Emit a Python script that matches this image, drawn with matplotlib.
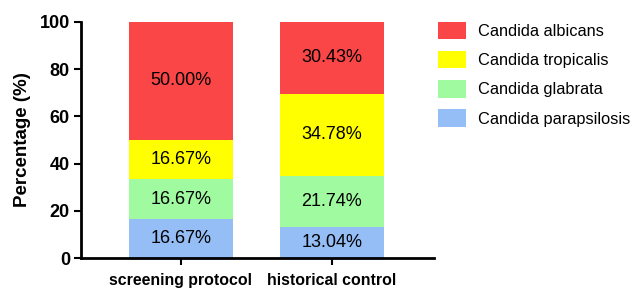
import numpy as np
import matplotlib
matplotlib.use('Agg')
from matplotlib import pyplot as plt

plt.rcParams['font.family'] = ['Liberation Sans', 'DejaVu Sans']

#%% data
groups = ['screening protocol', 'historical control']
species = ['Candida parapsilosis', 'Candida glabrata', 'Candida tropicalis', 'Candida albicans']
values = {
    'Candida parapsilosis': [16.67, 13.04],
    'Candida glabrata': [16.67, 21.74],
    'Candida tropicalis': [16.67, 34.78],
    'Candida albicans': [50.00, 30.43],
}
colors = {
    'Candida parapsilosis': '#94BEF5',
    'Candida glabrata': '#A0FAA0',
    'Candida tropicalis': '#FFFF00',
    'Candida albicans': '#FA4646',
}

#%% plot
fig = plt.figure(figsize=(6.38, 2.89), dpi=100)
ax = fig.add_axes([0.127, 0.107, 0.553, 0.817])

x = np.arange(len(groups))
bottom = np.zeros(len(groups))
handles = []
for sp in species:
    vals = np.array(values[sp])
    h = ax.bar(x, vals, 0.69, bottom=bottom, color=colors[sp], label=sp)
    handles.append(h)
    for xi, b, v in zip(x, bottom, vals):
        ax.text(xi, b + v / 2, f'{v:.2f}%', ha='center', va='center', fontsize=13)
    bottom += vals

ax.set_xlim(-0.662, 1.675)
ax.set_ylim(0, 100)
ax.set_yticks([0, 20, 40, 60, 80, 100])
ax.set_xticks(x)
ax.set_xticklabels(groups, fontweight='bold', fontsize=11.4)
for lbl in ax.get_yticklabels():
    lbl.set_fontweight('bold')
    lbl.set_fontsize(13)
ax.set_ylabel('Percentage (%)', fontweight='bold', fontsize=13.5, labelpad=6)
ax.spines['top'].set_visible(False)
ax.spines['right'].set_visible(False)
ax.spines['left'].set_linewidth(2)
ax.spines['bottom'].set_linewidth(2)
ax.tick_params(width=1.5, length=5)
ax.tick_params(axis='y', pad=3)
ax.tick_params(axis='x', pad=6)

leg = fig.legend(handles[::-1], species[::-1], loc='upper left', bbox_to_anchor=(0.663, 0.975),
                 frameon=False, fontsize=11.8, handlelength=1.75, handleheight=1.25,
                 labelspacing=0.72, handletextpad=0.72)

fig.savefig('out.png', dpi=100)
